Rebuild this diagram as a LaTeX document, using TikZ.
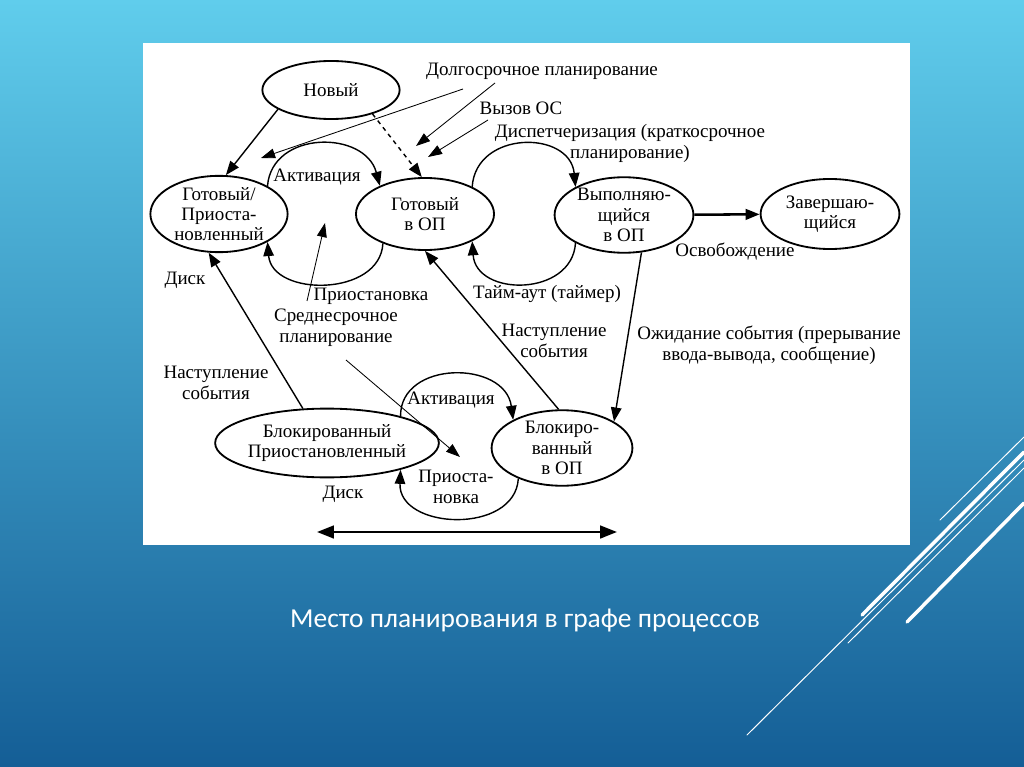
\documentclass[tikz,border=0pt]{standalone}
\usepackage{fontspec}
\setmainfont{Liberation Serif}
\newfontfamily\capfont{Carlito}
\usetikzlibrary{shapes.geometric,arrows.meta}
\definecolor{bgtop}{RGB}{96,205,236}
\definecolor{bgbot}{RGB}{20,94,150}
\tikzset{
  state/.style={draw, ellipse, line width=1.3pt, inner sep=0pt, align=center, font=\fontsize{13.5}{14.5}\selectfont},
  lbl/.style={align=center, inner sep=1pt, font=\fontsize{13.5}{15}\selectfont},
  arr/.style={line width=1pt, -{Triangle[length=10pt,width=7.5pt]}},
  ptr/.style={line width=0.6pt, -{Triangle[length=10pt,width=7pt]}},
  deco/.style={white, line cap=round},
}
\begin{document}
\begin{tikzpicture}[x=0.025cm, y=-0.025cm]
\shade[top color=bgtop, bottom color=bgbot] (0,0) rectangle (1024,767);
\useasboundingbox (0,0) rectangle (1024,767);
\fill[white] (143,43) rectangle (910,545);

\node[state, minimum width=3.43cm, minimum height=1.45cm] (new) at (331,90) {Новый};
\node[state, minimum width=3.43cm, minimum height=1.9cm] (rdysusp) at (219,214) {Готовый/\\Приоста-\\новленный};
\node[state, minimum width=3.45cm, minimum height=1.8cm] (rdymem) at (425,214) {Готовый\\в ОП};
\node[state, minimum width=3.47cm, minimum height=1.82cm] (run) at (624,215) {Выполняю-\\щийся\\в ОП};
\node[state, minimum width=3.47cm, minimum height=1.75cm] (exit) at (830,214) {Завершаю-\\щийся};
\node[state, minimum width=3.52cm, minimum height=1.82cm] (blkmem) at (562,448) {Блокиро-\\ванный\\в ОП};
\node[state, minimum width=4.55cm, minimum height=1.72cm] (blksusp) at (327,443) {Блокированный\\Приостановленный};

\node[lbl] (ltplan) at (542,71) {Долгосрочное планирование};
\node[lbl] (oscall) at (521,108) {Вызов ОС};
\node[lbl] (disp) at (630,143) {Диспетчеризация (краткосрочное\\планирование)};
\node[lbl] (act1) at (317,177) {Активация};
\node[lbl] (susp1) at (371,296) {Приостановка};
\node[lbl] (disk1) at (185,280) {Диск};
\node[lbl] (midplan) at (336,328) {Среднесрочное\\планирование};
\node[lbl] (tmout) at (547,294) {Тайм-аут (таймер)};
\node[lbl] (evt1) at (554,341) {Наступление\\события};
\node[lbl] (wait) at (769,345) {Ожидание события (прерывание\\ввода-вывода, сообщение)};
\node[lbl] (evt2) at (216,383) {Наступление\\события};
\node[lbl] (act2) at (451,400) {Активация};
\node[lbl] (disk2) at (343,494) {Диск};
\node[lbl] (susp2) at (456,487) {Приоста-\\новка};
\node[lbl] (free) at (735,252) {Освобождение};

\coordinate (lpa) at (463,89);
\coordinate (lpatip) at (261,158);
\coordinate (lpb) at (495,83);
\coordinate (lpbtip) at (416,146);
\coordinate (osc) at (488,120);
\coordinate (osctip) at (428,157);
\coordinate (mpa) at (307,301);
\coordinate (mpatip) at (325,223);
\coordinate (mpb) at (346,360);
\coordinate (mpbtip) at (460,457);
\coordinate (dl) at (317,532);
\coordinate (dr) at (617,532);

\draw[arr] (new.200) -- (rdysusp.80);
\draw[arr, dashed] (new.330) -- (rdymem.95);
\draw[ptr] (lpa) -- (lpatip);
\draw[ptr] (lpb) -- (lpbtip);
\draw[ptr] (osc) -- (osctip);
\draw[arr] (rdysusp.30) .. controls (272,130) and (365,130) .. (rdymem.148);
\draw[arr] (rdymem.215) .. controls (380,297) and (272,297) .. (rdysusp.330);
\draw[arr] (rdymem.30) .. controls (476,130) and (570,130) .. (run.150);
\draw[arr] (run.210) .. controls (572,297) and (476,297) .. (rdymem.330);
\draw[arr, line width=1.8pt] (run) -- (exit);
\draw[arr] (run.295) -- (blkmem.27);
\draw[arr] (blkmem.95) -- (rdymem.270);
\draw[arr] (blksusp.125) -- (rdysusp.255);
\draw[arr] (blksusp.20) .. controls (400,360) and (505,360) .. (blkmem.150);
\draw[arr] (blkmem.215) .. controls (515,535) and (398,530) .. (blksusp.340);
\draw[ptr] (mpa) -- (mpatip);
\draw[ptr] (mpb) -- (mpbtip);
\draw[line width=1.8pt, {Triangle[length=12pt,width=9pt]}-{Triangle[length=12pt,width=9pt]}] (dl) -- (dr);

\node[text=white, font=\capfont\fontsize{19.5}{22}\selectfont] (title) at (525,620) {Место планирования в графе процессов};

\draw[deco, line width=0.7pt] (940,520) -- (1024,437);
\draw[deco, line width=2.5pt] (862,615) -- (1024,452);
\draw[deco, line width=0.7pt] (747,735) -- (1024,460);
\draw[deco, line width=0.7pt] (848,643) -- (1024,468);
\draw[deco, line width=2.5pt] (907,622) -- (1024,503);
\end{tikzpicture}
\end{document}
